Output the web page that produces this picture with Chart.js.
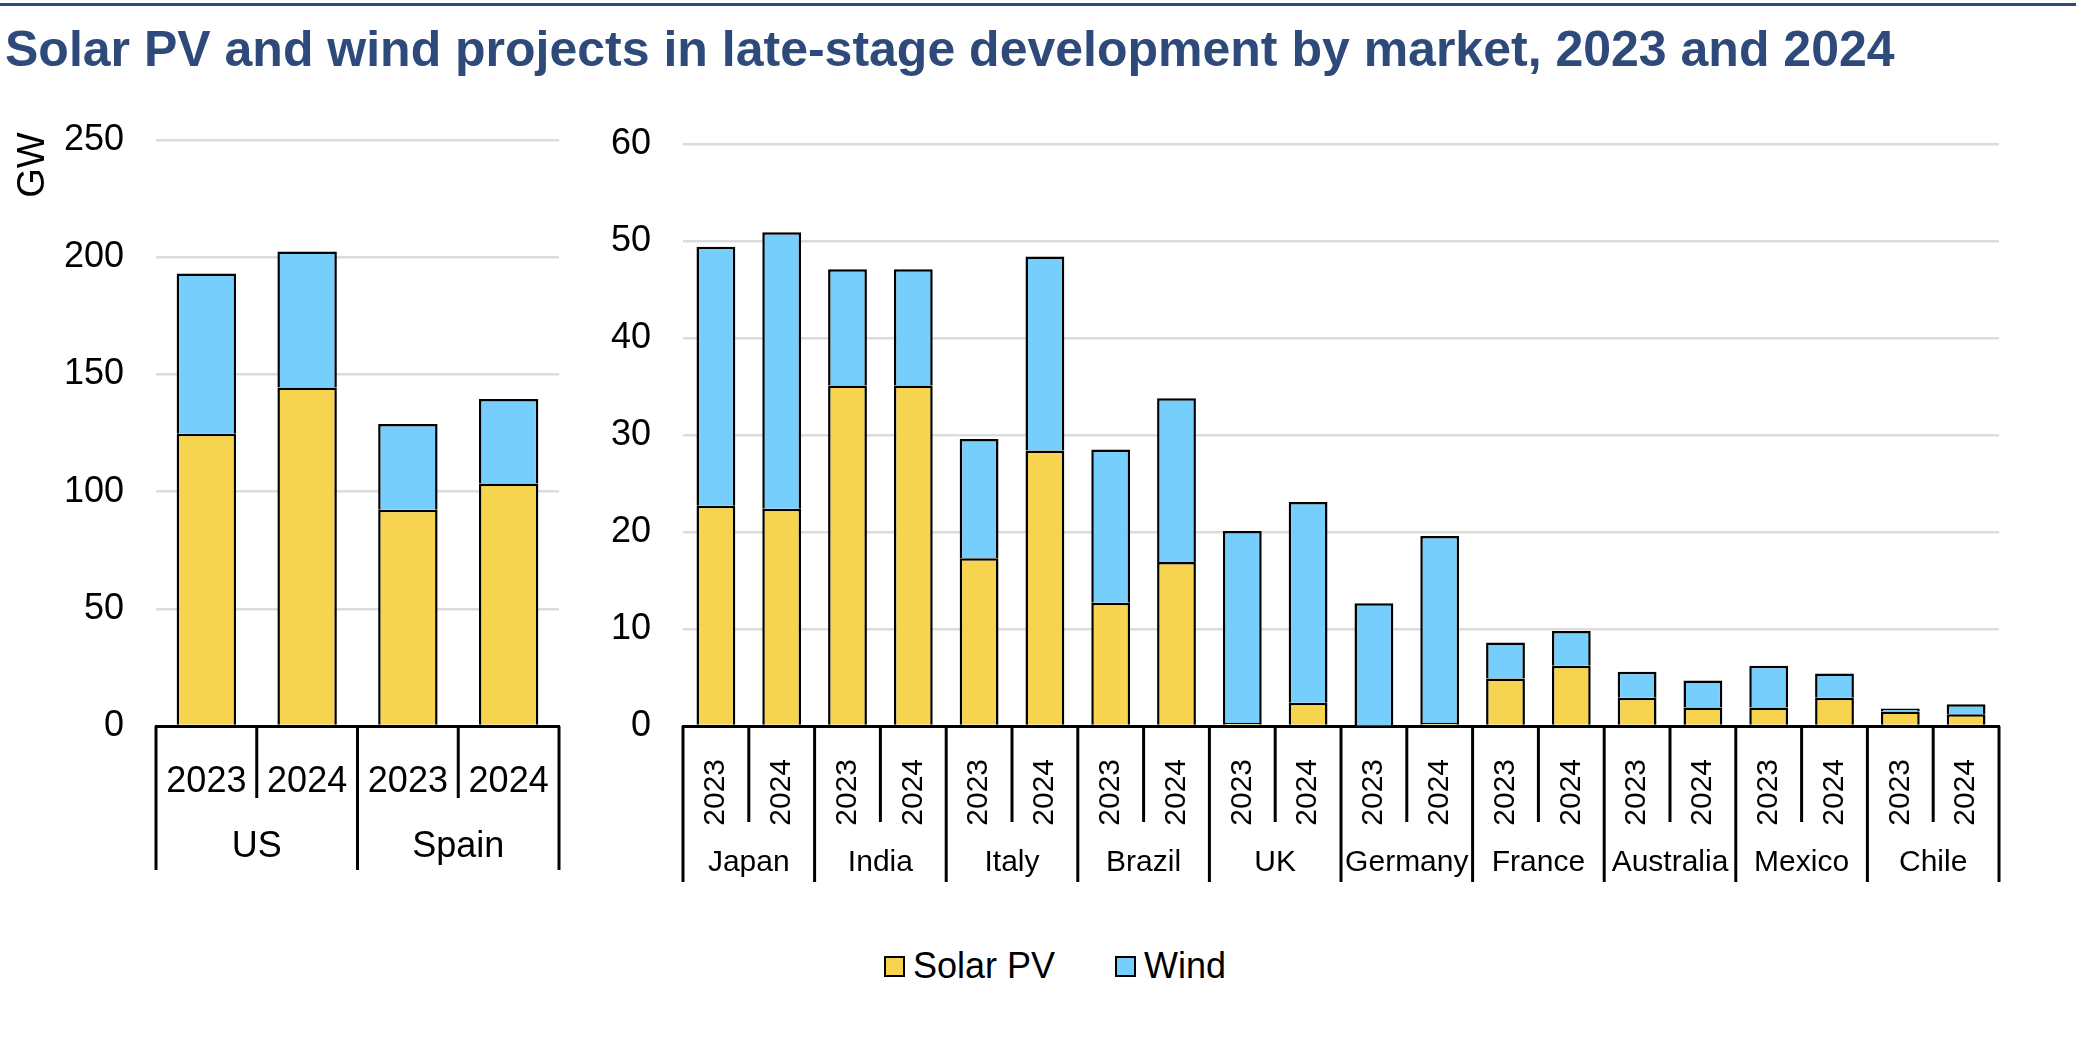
<!DOCTYPE html>
<html>
<head>
<meta charset="utf-8">
<script src="https://cdn.jsdelivr.net/npm/chart.js@4.4.1/dist/chart.umd.min.js"></script>
<style>
    body { margin: 0; background: #fff; font-family: "Liberation Sans", Arial, sans-serif; }
    #page { position: relative; width: 2076px; height: 1042px; overflow: hidden; }
    #rule { position: absolute; left: 0; top: 3px; width: 2076px; height: 3px; background: #2F4B7C; }
    #title { position: absolute; left: 5px; top: 24px; font-size: 50px; line-height: 50px; font-weight: bold; color: #2E4A7B; white-space: nowrap; }
    .box { position: absolute; top: 0; height: 900px; }
    #legend { position: absolute; top: 944px; left: 0; width: 2076px; height: 44px; }
    .item { position: absolute; top: 0; display: flex; align-items: center; height: 44px; font-size: 36px; color: #000; }
    .swatch { width: 17px; height: 17px; border: 2px solid #000; margin-right: 8px; }
</style>
</head>
<body>
<div id="page">
    <div id="rule"></div>
    <div id="title">Solar PV and wind projects in late-stage development by market, 2023 and 2024</div>
    <div class="box" style="left:0; width:580px;"><canvas id="left"></canvas></div>
    <div class="box" style="left:580px; width:1496px;"><canvas id="right"></canvas></div>
    <div id="legend">
        <div class="item" style="left:884px;"><div class="swatch" style="background:#F6D44F;"></div>Solar PV</div>
        <div class="item" style="left:1115px;"><div class="swatch" style="background:#75CEFB;"></div>Wind</div>
    </div>
</div>
<script>
const years = ['2023', '2024'];

const bigMarkets = ['US', 'Spain'];
const bigSolar = [124.7, 144.4, 92.3, 103.5];
const bigWind = [68.3, 58.0, 36.5, 36.0];

const markets = ['Japan', 'India', 'Italy', 'Brazil', 'UK', 'Germany', 'France', 'Australia', 'Mexico', 'Chile'];
const solar = [22.7, 22.4, 35.1, 35.1, 17.3, 28.4, 12.7, 16.9, 0.3, 2.4, 0.05, 0.3, 4.9, 6.2, 2.9, 1.9, 1.9, 2.9, 1.5, 1.2];
const wind = [26.7, 28.5, 12.0, 12.0, 12.3, 20.0, 15.8, 16.9, 19.8, 20.7, 12.6, 19.3, 3.7, 3.6, 2.7, 2.8, 4.3, 2.5, 0.3, 1.05];

const SOLAR_COLOR = '#F6D44F';
const WIND_COLOR = '#75CEFB';
const FONT = '"Liberation Sans", Arial, sans-serif';

// draws the year/market separators and the market names under the x axis
const groupAxis = {
    id: 'groupAxis',
    afterDraw(chart, args, opts) {
        const ctx = chart.ctx;
        const x = chart.scales.x;
        const n = chart.data.labels.length;
        const half = (x.getPixelForValue(1) - x.getPixelForValue(0)) / 2;
        const top = chart.chartArea.bottom;
        ctx.save();
        ctx.strokeStyle = '#000';
        ctx.lineWidth = 3;
        for (let i = 0; i <= n; i++) {
            const px = i < n ? x.getPixelForValue(i) - half : x.getPixelForValue(n - 1) + half;
            const bottom = i % 2 === 0 ? opts.groupBottom : opts.yearBottom;
            ctx.beginPath();
            ctx.moveTo(px, top);
            ctx.lineTo(px, bottom);
            ctx.stroke();
        }
        ctx.fillStyle = '#000';
        ctx.font = opts.fontSize + 'px ' + FONT;
        ctx.textAlign = 'center';
        ctx.textBaseline = 'middle';
        opts.groups.forEach((g, k) => {
            const cx = (x.getPixelForValue(2 * k) + x.getPixelForValue(2 * k + 1)) / 2;
            ctx.fillText(g, cx, opts.labelY);
        });
        if (opts.unit) {
            ctx.translate(34, 165);
            ctx.rotate(-Math.PI / 2);
            ctx.font = '38px ' + FONT;
            ctx.fillText(opts.unit, 0, 0);
        }
        ctx.restore();
    }
};

function makeChart(id, groups, solarData, windData, cfg) {
    const labels = groups.flatMap(() => years);
    return new Chart(document.getElementById(id), {
        type: 'bar',
        data: {
            labels: labels,
            datasets: [
                { label: 'Solar PV', data: solarData, backgroundColor: SOLAR_COLOR, borderColor: '#000', borderWidth: 2.5, barPercentage: 0.59, categoryPercentage: 1 },
                { label: 'Wind', data: windData, backgroundColor: WIND_COLOR, borderColor: '#000', borderWidth: 2.5, barPercentage: 0.59, categoryPercentage: 1 }
            ]
        },
        options: {
            responsive: true,
            maintainAspectRatio: false,
            animation: false,
            layout: { padding: { top: cfg.top, right: cfg.right, left: 0, bottom: 0 } },
            plugins: {
                legend: { display: false },
                tooltip: { enabled: false },
                groupAxis: {
                    groups: groups,
                    fontSize: cfg.groupFont,
                    yearBottom: cfg.yearBottom,
                    groupBottom: cfg.groupBottom,
                    labelY: cfg.labelY,
                    unit: cfg.unit
                }
            },
            scales: {
                x: {
                    stacked: true,
                    grid: { display: false },
                    border: { display: true, color: '#000', width: 3 },
                    ticks: {
                        color: '#000',
                        font: { family: FONT, size: cfg.yearFont },
                        padding: cfg.yearPad,
                        minRotation: cfg.rotation,
                        maxRotation: cfg.rotation,
                        autoSkip: false
                    },
                    afterFit: s => { s.height = 900 - 726; }
                },
                y: {
                    stacked: true,
                    min: 0,
                    max: cfg.max,
                    grid: { color: '#DCDCDC', lineWidth: 2.5, drawTicks: false },
                    border: { display: false },
                    ticks: {
                        stepSize: cfg.step,
                        color: '#000',
                        font: { family: FONT, size: 36 },
                        padding: cfg.tickPad
                    },
                    afterFit: s => { s.width = cfg.axisWidth; }
                }
            }
        },
        plugins: [groupAxis]
    });
}

makeChart('left', bigMarkets, bigSolar, bigWind, {
    top: 140, right: 21, axisWidth: 156, tickPad: 32, max: 250, step: 50,
    yearFont: 36, yearPad: 26, rotation: 0, groupFont: 36,
    yearBottom: 798, groupBottom: 870, labelY: 847, unit: 'GW'
});

makeChart('right', markets, solar, wind, {
    top: 144, right: 77, axisWidth: 103, tickPad: 32, max: 60, step: 10,
    yearFont: 30, yearPad: 25, rotation: 90, groupFont: 30,
    yearBottom: 822, groupBottom: 882, labelY: 863
});
</script>
</body>
</html>
